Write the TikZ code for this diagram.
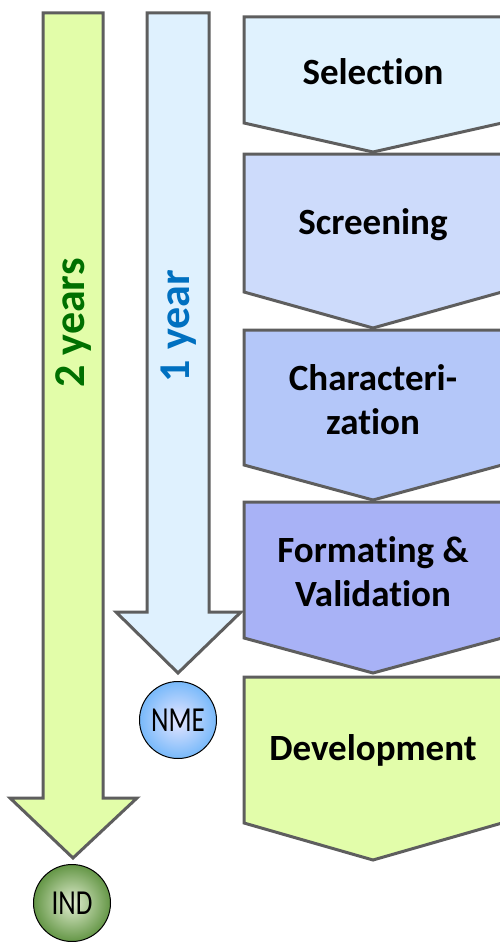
\documentclass[tikz,border=0pt]{standalone}
\usepackage{fontspec}
\setmainfont{Carlito}[Ligatures=NoCommon]
\usetikzlibrary{shadings}
\definecolor{strokeg}{HTML}{5E5E5E}
\definecolor{greenfill}{HTML}{E2FDA9}
\definecolor{bluefill}{HTML}{DFF1FE}
\definecolor{selfill}{HTML}{E0F2FE}
\definecolor{scrfill}{HTML}{CDDBFB}
\definecolor{chafill}{HTML}{B4C7F9}
\definecolor{forfill}{HTML}{A8B2F6}
\definecolor{devfill}{HTML}{E2FDAA}
\definecolor{greentext}{HTML}{007000}
\definecolor{bluetext}{HTML}{0070C0}
\tikzset{
  shape line/.style={draw=strokeg, line width=3pt, line join=miter},
  steplabel/.style={font=\fontsize{37}{44}\selectfont\bfseries, align=center, text=black, inner sep=0pt},
  yearlabel/.style={font=\fontsize{44}{50}\selectfont\bfseries, rotate=90, inner sep=0pt},
  milestone/.style={circle, draw=black, line width=1pt, minimum size=77pt, inner sep=0pt, font=\fontsize{27}{30}\selectfont},
}
\newcommand{\chevshape}[4]{% top, side bottom, tip, fill
  \filldraw[shape line, fill=#4] (244,#1) -- (502,#1) -- (502,#2) -- (373,#3) -- (244,#2) -- cycle;}
\begin{document}
\begin{tikzpicture}[x=1pt,y=-1pt]
\useasboundingbox (0,0) rectangle (500,942);
% long arrows
\filldraw[shape line, fill=greenfill] (43,13) -- (103,13) -- (103,798) -- (137,798) -- (73,858) -- (10,798) -- (43,798) -- cycle;
\filldraw[shape line, fill=bluefill] (147,13) -- (209,13) -- (209,612) -- (241,612) -- (178,673) -- (116,612) -- (147,612) -- cycle;
\node[yearlabel, text=greentext] (two) at (74,323) {2 years};
\node[yearlabel, text=bluetext] (one) at (179,326) {1 year};
% chevrons
\chevshape{17}{123}{152}{selfill}
\chevshape{154}{292}{328}{scrfill}
\chevshape{330}{465}{500}{chafill}
\chevshape{502}{638}{673}{forfill}
\chevshape{677}{823}{860}{devfill}
\node[steplabel] (sel) at (373,72) {Selection};
\node[steplabel] (scr) at (373,225) {Screening};
\node[steplabel] (cha) at (373,400) {Characteri-\\zation};
\node[steplabel] (for) at (373,572) {Formating \&\\Validation};
\node[steplabel] (dev) at (373,750) {Development};
% milestones
\node[milestone, inner color=blue!10!white, outer color={rgb,255:red,120;green,185;blue,250}] (nme) at (178,720) {\scalebox{1}[1.3]{NME}};
\node[milestone, inner color={rgb,255:red,225;green,238;blue,208}, outer color={rgb,255:red,100;green,150;blue,70}] (ind) at (72,903) {\scalebox{1}[1.3]{IND}};
\end{tikzpicture}
\end{document}
